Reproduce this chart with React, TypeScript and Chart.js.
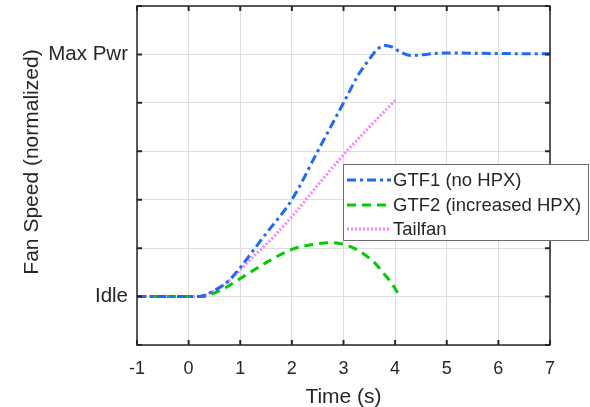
import React, { useEffect, useRef } from "react";
import { Chart, registerables } from "chart.js";

Chart.register(...registerables);

const gtf1Time = [-1, 0, 0.2, 0.5, 0.75, 1, 1.25, 1.5, 2, 2.5, 3, 3.3, 3.5, 3.65, 3.8, 3.95, 4.1, 4.3, 4.5, 4.75, 5, 5.5, 6, 6.5, 7];
const gtf1Speed = [0, 0, 0, 0.025, 0.06, 0.12, 0.19, 0.26, 0.4, 0.6, 0.8, 0.92, 0.98, 1.02, 1.037, 1.03, 1.01, 0.996, 0.998, 1.004, 1.006, 1.005, 1.004, 1.003, 1.003];

const gtf2Time = [-1, 0, 0.3, 0.5, 0.7, 1, 1.5, 2, 2.5, 2.75, 3, 3.2, 3.4, 3.6, 3.8, 3.95, 4.05];
const gtf2Speed = [0, 0, 0, 0.015, 0.035, 0.075, 0.14, 0.195, 0.218, 0.223, 0.216, 0.2, 0.175, 0.14, 0.09, 0.05, 0.015];

const tailTime = [-1, 0, 0.2, 0.5, 0.75, 1, 1.25, 1.5, 2, 2.5, 3, 3.5, 4];
const tailSpeed = [0, 0, 0, 0.025, 0.06, 0.11, 0.165, 0.215, 0.33, 0.46, 0.585, 0.7, 0.81];

const seriesNames = ["GTF1 (no HPX)", "GTF2 (increased HPX)", "Tailfan"];
const xTicks = [-1, 0, 1, 2, 3, 4, 5, 6, 7];
const yTickLabels: Record<string, string> = { "0": "Idle", "1": "Max Pwr" };
const xTitle = "Time (s)";
const yTitle = "Fan Speed (normalized)";

const FONT = "'Liberation Sans', Arial, Helvetica, sans-serif";
const TEXT = "#262626";
const BLUE = "#1a6aff";
const GREEN = "#00cc00";
const PINK = "#ff80ff";

const styles = [
  { color: BLUE, dash: [9, 4, 3, 4], width: 3 },
  { color: GREEN, dash: [9, 6], width: 3 },
  { color: PINK, dash: [2, 2], width: 3 },
];

const framePlugin = {
  id: "frame",
  afterDraw(chart: any) {
    const { ctx, chartArea: a, scales } = chart;
    ctx.save();
    ctx.strokeStyle = TEXT;
    ctx.lineWidth = 1.5;
    ctx.setLineDash([]);
    ctx.strokeRect(a.left, a.top, a.right - a.left, a.bottom - a.top);
    ctx.lineWidth = 2;
    const L = 5;
    for (const t of xTicks) {
      const x = scales.x.getPixelForValue(t);
      ctx.beginPath();
      ctx.moveTo(x, a.bottom);
      ctx.lineTo(x, a.bottom - L);
      ctx.moveTo(x, a.top);
      ctx.lineTo(x, a.top + L);
      ctx.stroke();
    }
    for (let i = 0; i <= 7; i++) {
      const v = -0.2 + i * 0.2;
      const y = scales.y.getPixelForValue(v);
      ctx.beginPath();
      ctx.moveTo(a.left, y);
      ctx.lineTo(a.left + L, y);
      ctx.moveTo(a.right, y);
      ctx.lineTo(a.right - L, y);
      ctx.stroke();
    }
    // axis titles
    ctx.fillStyle = TEXT;
    ctx.font = `21px ${FONT}`;
    ctx.textAlign = "center";
    ctx.textBaseline = "alphabetic";
    ctx.fillText(xTitle, (a.left + a.right) / 2, 403);
    ctx.save();
    ctx.translate(38, 162);
    ctx.rotate(-Math.PI / 2);
    ctx.fillText(yTitle, 0, 0);
    ctx.restore();
    // legend box
    const bx = 343, by = 164, bw = 246, bh = 77;
    ctx.fillStyle = "#ffffff";
    ctx.fillRect(bx, by, bw, bh);
    ctx.strokeStyle = "#6e6e6e";
    ctx.lineWidth = 1;
    ctx.strokeRect(bx + 0.5, by + 0.5, bw - 1, bh - 1);
    const rows = [180, 205, 229];
    ctx.font = `18.5px ${FONT}`;
    ctx.textBaseline = "middle";
    ctx.textAlign = "left";
    seriesNames.forEach((name, i) => {
      const s = styles[i];
      ctx.strokeStyle = s.color;
      ctx.lineWidth = s.width;
      ctx.setLineDash(s.dash);
      ctx.beginPath();
      ctx.moveTo(347, rows[i]);
      ctx.lineTo(391, rows[i]);
      ctx.stroke();
      ctx.setLineDash([]);
      ctx.fillStyle = TEXT;
      ctx.fillText(name, 393, rows[i] + 1);
    });
    ctx.restore();
  },
};

function toPoints(xs: number[], ys: number[]) {
  return xs.map((x, i) => ({ x, y: ys[i] }));
}

export default function App() {
  const ref = useRef<HTMLCanvasElement | null>(null);
  useEffect(() => {
    document.body.style.margin = "0";
    const canvas = ref.current!;
    const datasets = [
      toPoints(gtf1Time, gtf1Speed),
      toPoints(gtf2Time, gtf2Speed),
      toPoints(tailTime, tailSpeed),
    ].map((data, i) => ({
      label: seriesNames[i],
      data,
      borderColor: styles[i].color,
      backgroundColor: styles[i].color,
      borderWidth: styles[i].width,
      borderDash: styles[i].dash,
      pointRadius: 0,
      fill: false,
      cubicInterpolationMode: "monotone" as const,
    }));
    const chart = new Chart(canvas, {
      type: "line",
      data: { datasets },
      options: {
        animation: false,
        responsive: false,
        maintainAspectRatio: false,
        layout: { padding: { top: 6, right: 40, left: 0, bottom: 0 } },
        plugins: { legend: { display: false }, tooltip: { enabled: false } },
        scales: {
          x: {
            type: "linear",
            min: -1,
            max: 7,
            afterFit: (s: any) => { s.height = 62; s.paddingLeft = 0; s.paddingRight = 0; },
            ticks: {
              stepSize: 1,
              color: TEXT,
              padding: 13,
              font: { family: FONT, size: 18 },
              callback: (v: any) => String(v),
            },
            grid: { color: "#dedede", lineWidth: 1, drawTicks: false },
            border: { display: false },
            title: { display: false },
          },
          y: {
            type: "linear",
            min: -0.2,
            max: 1.2,
            afterFit: (s: any) => { s.width = 137; s.paddingTop = 0; s.paddingBottom = 0; },
            afterBuildTicks: (s: any) => {
              s.ticks = [];
              for (let i = 0; i <= 7; i++) s.ticks.push({ value: Math.round((-0.2 + i * 0.2) * 10) / 10 });
            },
            ticks: {
              color: TEXT,
              padding: 9,
              font: { family: FONT, size: 20.5 },
              callback: (v: any) => yTickLabels[String(Math.round(Number(v) * 10) / 10)] ?? "",
            },
            grid: { color: "#dedede", lineWidth: 1, drawTicks: false },
            border: { display: false },
            title: { display: false },
          },
        },
      },
      plugins: [framePlugin],
    });
    return () => chart.destroy();
  }, []);
  return (
    <div style={{ position: "absolute", left: 0, top: 0, width: 590, height: 407, background: "#fff" }}>
      <canvas ref={ref} width={590} height={407} style={{ width: 590, height: 407 }} />
    </div>
  );
}
